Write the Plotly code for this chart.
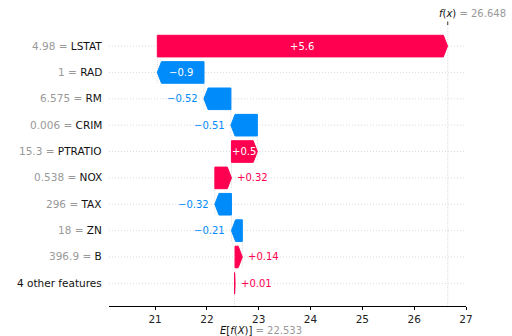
import plotly.graph_objects as go

# ---- data ----
features = ["LSTAT", "RAD", "RM", "CRIM", "PTRATIO", "NOX", "TAX", "ZN", "B", "4 other features"]
feature_values = ["4.98", "1", "6.575", "0.006", "15.3", "0.538", "296", "18", "396.9", ""]
shap_values = [5.6, -0.9, -0.52, -0.51, 0.5, 0.32, -0.32, -0.21, 0.14, 0.01]
base_value = 22.533
fx_value = 26.648
x_ticks = [21, 22, 23, 24, 25, 26, 27]

# ---- style ----
RED = "#ff0051"
BLUE = "#008bfa"
FONT = "DejaVu Sans"
X_RANGE = [20.11, 27.0]
Y_RANGE = [-0.86, 9.8]
M_L, M_R, M_T, M_B = 109, 46, 25, 30
W, H = 512, 336
plot_w = W - M_L - M_R
px_per_unit = plot_w / (X_RANGE[1] - X_RANGE[0])
HALF = 0.41
HEAD = 0.08
LABEL_SIZE = 10
GUIDE = "#dcdcdc"

n = len(features)
starts = [0.0] * n
ends = [0.0] * n
cur = base_value
for i in range(n - 1, -1, -1):
    starts[i] = cur
    cur += shap_values[i]
    ends[i] = cur
rows = [n - 1 - i for i in range(n)]


def fmt(v):
    s = ("%.2f" % abs(v)).rstrip("0").rstrip(".")
    return ("+" if v >= 0 else "\u2212") + s


CW = {"+": 0.838, "\u2212": 0.838, ".": 0.318}


def text_px(s):
    return sum(CW.get(c, 0.636) for c in s) * LABEL_SIZE


fig = go.Figure()
shapes = []
annotations = []

# horizontal dotted row guides
for r in rows:
    shapes.append(dict(type="line", xref="paper", x0=0, x1=1, yref="y", y0=r, y1=r,
                       line=dict(color=GUIDE, width=1, dash="1px,2px"), layer="below"))

# connecting vertical lines
for i in range(1, n):
    r = rows[i]
    shapes.append(dict(type="line", xref="x", x0=ends[i], x1=ends[i], yref="y",
                       y0=r - 0.4, y1=r + 1.4,
                       line=dict(color=GUIDE, width=1, dash="1px,1px"), layer="below"))
# f(x) line
shapes.append(dict(type="line", xref="x", x0=fx_value, x1=fx_value, yref="paper", y0=0, y1=1.0,
                   line=dict(color=GUIDE, width=1, dash="1px,1px"), layer="below"))
# f(x) top tick
shapes.append(dict(type="line", xref="x", x0=fx_value, x1=fx_value, yref="paper",
                   y0=1.0, y1=1.0 + 3.5 / (H - M_T - M_B),
                   line=dict(color="#333333", width=1)))
# base line
shapes.append(dict(type="line", xref="x", x0=base_value, x1=base_value, yref="y",
                   y0=Y_RANGE[0], y1=0,
                   line=dict(color=GUIDE, width=1, dash="1px,1px"), layer="below"))

for i in range(n):
    r = rows[i]
    s, e, v = starts[i], ends[i], shap_values[i]
    col = RED if v >= 0 else BLUE
    hl = min(HEAD, abs(v))
    d = 1 if v >= 0 else -1
    xs = [s, e - d * hl, e, e - d * hl, s, s]
    ys = [r - HALF, r - HALF, r, r + HALF, r + HALF, r - HALF]
    fig.add_trace(go.Scatter(x=xs, y=ys, mode="lines", fill="toself", fillcolor=col,
                             line=dict(color=col, width=1), hoverinfo="skip", showlegend=False))
    lab = fmt(v)
    bar_px = abs(v) * px_per_unit
    if bar_px > text_px(lab) + 1:
        annotations.append(dict(x=(s + e) / 2, y=r, xref="x", yref="y", text=lab, showarrow=False,
                                font=dict(family=FONT, size=LABEL_SIZE, color="white"),
                                xanchor="center", yanchor="middle"))
    else:
        annotations.append(dict(x=e, y=r, xref="x", yref="y", text=lab, showarrow=False,
                                font=dict(family=FONT, size=LABEL_SIZE, color=col),
                                xanchor="left" if v >= 0 else "right",
                                xshift=4 if v >= 0 else -4, yanchor="middle"))
    # left feature label
    if feature_values[i]:
        t = "<span style='color:#999999'>%s = </span>%s" % (feature_values[i], features[i])
    else:
        t = features[i]
    annotations.append(dict(x=0, y=r, xref="paper", yref="y", text=t, showarrow=False,
                            font=dict(family=FONT, size=10.5, color="#111111"),
                            xanchor="right", xshift=-5, yanchor="middle", yshift=0.5))

annotations.append(dict(x=fx_value, y=1, xref="x", yref="paper",
                        text="<i>f</i>(<i>x</i>) <span style='color:#999999'>= %.3f</span>" % fx_value,
                        showarrow=False, font=dict(family=FONT, size=10, color="#111111"),
                        xanchor="left", xshift=-11, yanchor="middle", yshift=12))
annotations.append(dict(x=base_value, y=0, xref="x", yref="paper",
                        text="<i>E</i>[<i>f</i>(<i>X</i>)] <span style='color:#999999'>= %.3f</span>" % base_value,
                        showarrow=False, font=dict(family=FONT, size=10, color="#111111"),
                        xanchor="left", xshift=-17, yanchor="middle", yshift=-24.5))

fig.update_layout(
    width=W, height=H,
    margin=dict(l=M_L, r=M_R, t=M_T, b=M_B),
    plot_bgcolor="white", paper_bgcolor="white",
    shapes=shapes, annotations=annotations,
    xaxis=dict(range=X_RANGE, tickvals=x_ticks, ticktext=[str(t) for t in x_ticks],
               showgrid=False, zeroline=False, showline=True, linecolor="black", linewidth=1,
               ticks="outside", ticklen=3, tickcolor="black",
               tickfont=dict(family=FONT, size=10.5, color="#222222")),
    yaxis=dict(range=Y_RANGE, showgrid=False, zeroline=False, showline=False,
               showticklabels=False, ticks=""),
    font=dict(family=FONT),
)

fig.write_html("out.html")
